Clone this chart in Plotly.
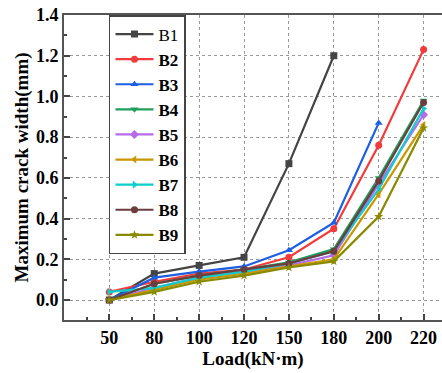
import plotly.graph_objects as go

loads = ["50", "80", "100", "120", "150", "180", "200", "220"]
B1 = [0.0, 0.13, 0.17, 0.21, 0.67, 1.20]
B2 = [0.04, 0.09, 0.13, 0.15, 0.21, 0.35, 0.76, 1.23]
B3 = [0.0, 0.11, 0.14, 0.165, 0.245, 0.38, 0.87]
B4 = [0.0, 0.08, 0.12, 0.15, 0.185, 0.25, 0.60, 0.98]
B5 = [0.0, 0.06, 0.11, 0.14, 0.17, 0.22, 0.57, 0.91]
B6 = [0.0, 0.05, 0.10, 0.13, 0.165, 0.20, 0.52, 0.86]
B7 = [0.04, 0.06, 0.11, 0.14, 0.18, 0.24, 0.545, 0.94]
B8 = [0.0, 0.08, 0.12, 0.15, 0.18, 0.24, 0.585, 0.97]
B9 = [0.0, 0.04, 0.09, 0.12, 0.16, 0.19, 0.41, 0.845]

series = [
    ("B1", B1, "#444444", "square"),
    ("<b>B2</b>", B2, "#F23B3B", "circle"),
    ("<b>B3</b>", B3, "#1C5FE3", "triangle-up"),
    ("<b>B4</b>", B4, "#1F9E5C", "triangle-down"),
    ("<b>B5</b>", B5, "#B56BE8", "diamond"),
    ("<b>B6</b>", B6, "#C99700", "triangle-left"),
    ("<b>B7</b>", B7, "#11CCCC", "triangle-right"),
    ("<b>B8</b>", B8, "#6B3E3E", "circle"),
    ("<b>B9</b>", B9, "#8A8A00", "star"),
]

fig = go.Figure()
for name, vals, color, sym in series:
    fig.add_trace(go.Scatter(
        x=list(range(len(vals))), y=vals, name=name, mode="lines+markers",
        line=dict(color=color, width=2.2),
        marker=dict(symbol=sym, size=7, color=color),
    ))

font_family = "Liberation Serif"
fig.update_layout(
    width=442, height=373,
    margin=dict(l=64, r=0, t=15, b=53),
    paper_bgcolor="white", plot_bgcolor="white",
    font=dict(family=font_family, color="black"),
    showlegend=True,
    legend=dict(
        x=0.119, y=1.0, xanchor="left", yanchor="top",
        bgcolor="white", bordercolor="#444444", borderwidth=1.5,
        font=dict(family=font_family, size=17, color="black"),
        itemwidth=38, tracegroupgap=0,
    ),
)
fig.update_xaxes(
    range=[-1.01, 7.41],
    tickmode="array", tickvals=list(range(len(loads))),
    ticktext=["<b>%s</b>" % t for t in loads],
    tickfont=dict(size=18, family=font_family),
    ticks="inside", ticklen=6, tickcolor="#444444", tickwidth=1.5,
    minor=dict(ticks="inside", ticklen=3, tickcolor="#444444", dtick=0.5, tick0=0.5, showgrid=False),
    showline=True, linecolor="#555555", linewidth=2, mirror=True,
    showgrid=True, gridcolor="#999999", griddash="dot", gridwidth=1,
    zeroline=False,
    title=dict(text="<b>Load(kN·m)</b>", font=dict(size=19, family=font_family), standoff=4),
)
fig.update_yaxes(
    range=[-0.098, 1.4],
    tickmode="array", tickvals=[0, 0.2, 0.4, 0.6, 0.8, 1.0, 1.2, 1.4],
    ticktext=["<b>%.1f</b>" % v for v in [0, 0.2, 0.4, 0.6, 0.8, 1.0, 1.2, 1.4]],
    tickfont=dict(size=18, family=font_family),
    ticks="inside", ticklen=6, tickcolor="#444444", tickwidth=1.5,
    minor=dict(ticks="inside", ticklen=3, tickcolor="#444444", dtick=0.1, showgrid=False),
    showline=True, linecolor="#555555", linewidth=2, mirror=False,
    showgrid=True, gridcolor="#999999", griddash="dot", gridwidth=1,
    zeroline=False,
    title=dict(text="<b>Maximum crack width(mm)</b>", font=dict(size=19, family=font_family), standoff=2),
)
fig.write_html("out.html")
